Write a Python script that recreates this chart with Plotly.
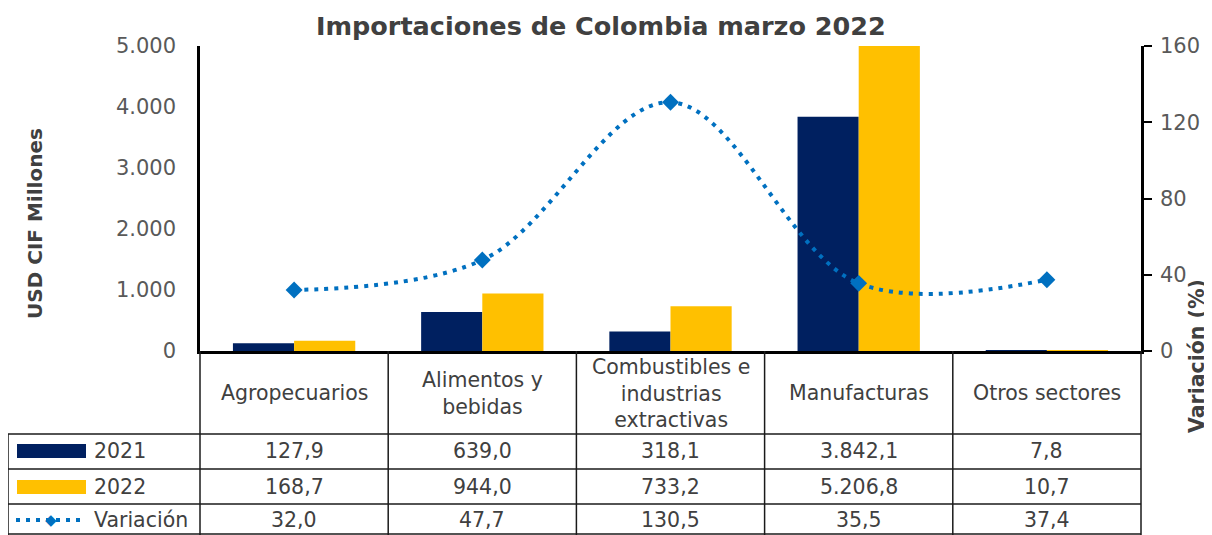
import plotly.graph_objects as go

categories = ["Agropecuarios", "Alimentos y<br>bebidas", "Combustibles e<br>industrias<br>extractivas",
              "Manufacturas", "Otros sectores"]
imp_2021 = [127.9, 639.0, 318.1, 3842.1, 7.8]
imp_2022 = [168.7, 944.0, 733.2, 5206.8, 10.7]
variacion = [32.0, 47.7, 130.5, 35.5, 37.4]
left_ticks = [0, 1000, 2000, 3000, 4000, 5000]
right_ticks = [0, 40, 80, 120, 160]

NAVY = "#002060"
YELLOW = "#FFC000"
BLUE = "#0070C0"
TXT = "#404040"
TICK = "#595959"
FONT = "DejaVu Sans"

# page pixels (body has an 8px margin)
OFF = 8
W, H = 1212, 535
L, R, T, B = 200, 1141, 46, 351


def px(x):
    return (x - L) / (R - L)


def py(y):
    return (B - y) / (B - T)


def fmt(v):
    s = f"{v:,.1f}"
    return s.replace(",", "X").replace(".", ",").replace("X", ".")


xs = list(range(len(categories)))

fig = go.Figure()
fig.add_trace(go.Bar(x=xs, y=imp_2021, name="2021", marker_color=NAVY, marker_line_width=0))
fig.add_trace(go.Bar(x=xs, y=imp_2022, name="2022", marker_color=YELLOW, marker_line_width=0))
fig.add_trace(go.Scatter(x=xs, y=variacion, name="Variación", yaxis="y2", mode="lines+markers",
                         line=dict(color=BLUE, width=4, dash="4px,6px", shape="spline", smoothing=1.0),
                         marker=dict(symbol="diamond", size=13, color=BLUE), cliponaxis=False))

shapes = []
ann = []
LINE = dict(color="#1a1a1a", width=1.5)
n = len(categories)
colx = [L + i * (R - L) / n for i in range(n + 1)]
rows = [434, 469, 504, 534]
LEFT = 8
for i, cx in enumerate(colx):
    shapes.append(dict(type="line", xref="paper", yref="paper", x0=px(cx), x1=px(cx),
                       y0=py(B), y1=py(535), line=LINE))
shapes.append(dict(type="line", xref="paper", yref="paper", x0=px(LEFT), x1=px(LEFT),
                   y0=py(rows[0]), y1=py(535), line=LINE))
for ry in rows:
    shapes.append(dict(type="line", xref="paper", yref="paper", x0=px(LEFT), x1=px(R),
                       y0=py(ry), y1=py(ry), line=LINE))

# legend keys
shapes.append(dict(type="rect", xref="paper", yref="paper", x0=px(17), x1=px(86), y0=py(444), y1=py(458),
                   fillcolor=NAVY, line_width=0))
shapes.append(dict(type="rect", xref="paper", yref="paper", x0=px(17), x1=px(86), y0=py(480), y1=py(494),
                   fillcolor=YELLOW, line_width=0))
shapes.append(dict(type="line", xref="paper", yref="paper", x0=px(16), x1=px(86), y0=py(520), y1=py(520),
                   line=dict(color=BLUE, width=4, dash="4px,6px")))
ann.append(dict(xref="paper", yref="paper", x=px(51), y=py(520), text="◆", showarrow=False,
                font=dict(size=15, color=BLUE, family=FONT), xanchor="center", yanchor="middle"))

TF = 20.5
row_defs = [("2021", imp_2021, 451), ("2022", imp_2022, 487), ("Variación", variacion, 520)]
for label, vals, cy in row_defs:
    ann.append(dict(xref="paper", yref="paper", x=px(92), y=py(cy), text=label, showarrow=False,
                    font=dict(size=TF, color=TXT, family=FONT), xanchor="left", yanchor="middle"))
    for i, v in enumerate(vals):
        ann.append(dict(xref="x", yref="paper", x=xs[i], y=py(cy), text=fmt(v), showarrow=False,
                        font=dict(size=TF, color=TXT, family=FONT), xanchor="center", yanchor="middle"))

for i, c in enumerate(categories):
    ann.append(dict(xref="x", yref="paper", x=xs[i], y=py(393), text=c, showarrow=False,
                    font=dict(size=TF, color=TXT, family=FONT), xanchor="center", yanchor="middle"))

ann.append(dict(xref="paper", yref="paper", x=px(601), y=py(26), text="<b>Importaciones de Colombia marzo 2022</b>",
                showarrow=False, font=dict(size=25.5, color=TXT, family=FONT), xanchor="center", yanchor="middle"))
ann.append(dict(xref="paper", yref="paper", x=px(35), y=py(224), text="<b>USD CIF Millones</b>", textangle=-90,
                showarrow=False, font=dict(size=20, color=TXT, family=FONT), xanchor="center", yanchor="middle"))
ann.append(dict(xref="paper", yref="paper", x=px(1197), y=py(356), text="<b>Variación (%)</b>", textangle=-90,
                showarrow=False, font=dict(size=20.5, color=TXT, family=FONT), xanchor="center", yanchor="middle"))

fig.update_layout(
    width=W - OFF, height=H - OFF,
    margin=dict(l=L - OFF, r=W - R, t=T - OFF, b=H - B, pad=0),
    paper_bgcolor="white", plot_bgcolor="white",
    showlegend=False,
    barmode="group", bargap=0.35, bargroupgap=0,
    separators=",.",
    font=dict(family=FONT, color=TICK),
    xaxis=dict(range=[-0.5, n - 0.5], showticklabels=False, ticks="", showgrid=False, zeroline=False,
               showline=True, linecolor="black", linewidth=2.5),
    yaxis=dict(range=[0, 5000], tickvals=left_ticks, tickformat=",d", showgrid=False, zeroline=False,
               showline=True, linecolor="black", linewidth=2.5, ticks="", ticklabelstandoff=17,
               tickfont=dict(size=21, color=TICK, family=FONT)),
    yaxis2=dict(range=[0, 160], tickvals=right_ticks, overlaying="y", side="right", showgrid=False,
                zeroline=False, showline=True, linecolor="black", linewidth=2.5, ticks="outside",
                ticklen=8, tickwidth=2, tickcolor="black", ticklabelstandoff=4,
                tickfont=dict(size=21, color=TICK, family=FONT)),
    shapes=shapes, annotations=ann,
)

fig.write_html("out.html")
